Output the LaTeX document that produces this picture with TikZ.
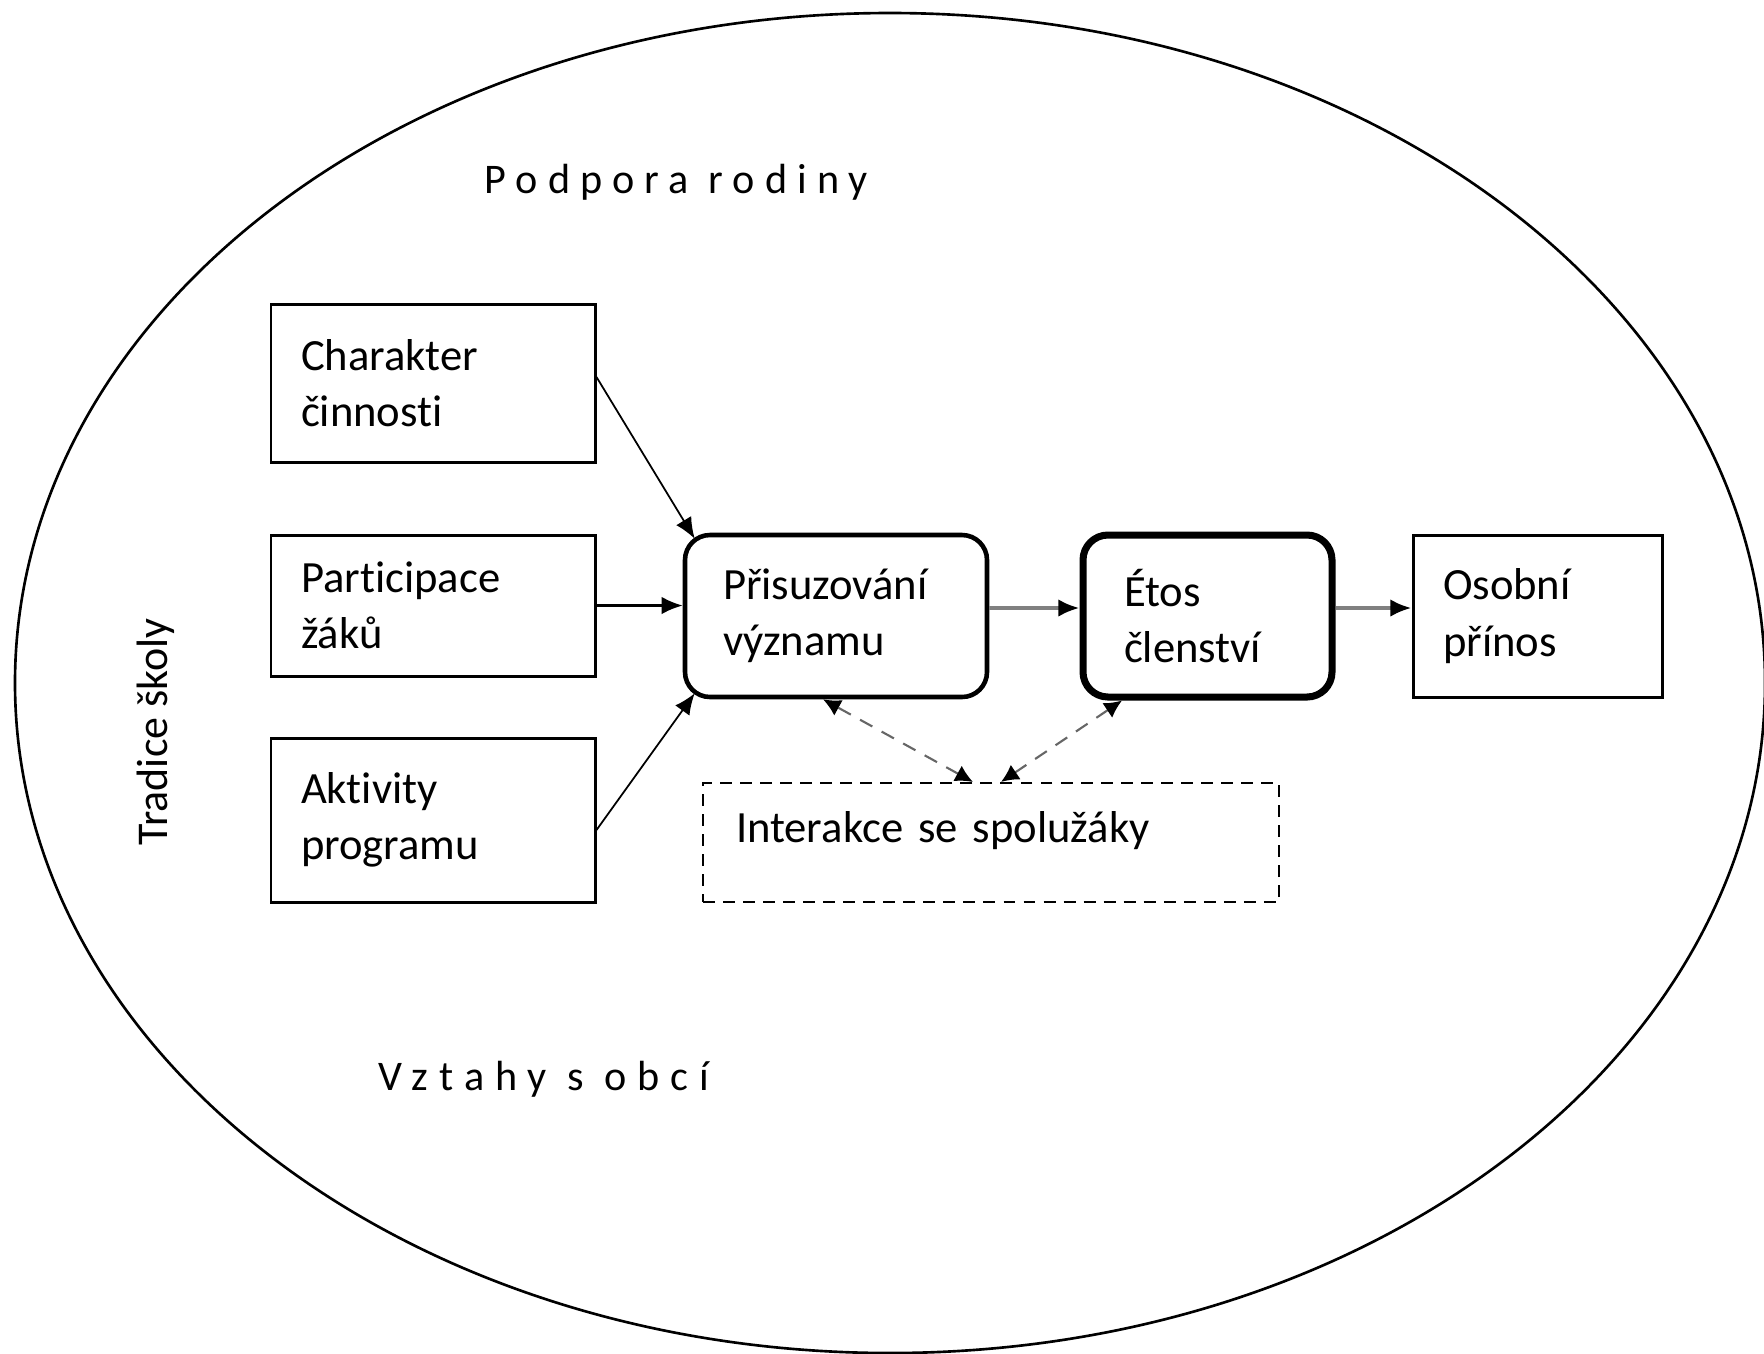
\documentclass[tikz,border=0pt]{standalone}
\usepackage{fontspec}
\setmainfont{Carlito}[Ligatures=NoCommon]
\usetikzlibrary{calc,arrows.meta}

\tikzset{
	box/.style={draw, line width=0.85pt, inner xsep=0pt, inner ysep=2pt, align=left, font=\fontsize{12.7}{16}\selectfont},
	roundbox/.style={box, rounded corners=0.25cm},
	dashbox/.style={box, line width=0.6pt, dash pattern=on 3.4pt off 2.3pt},
	freetext/.style={inner sep=0pt, font=\fontsize{12}{14}\selectfont},
	thinarrow/.style={line width=0.5pt, -{Latex[length=6pt,width=5pt]}},
	mainarrow/.style={line width=0.7pt, -{Latex[length=6pt,width=5pt]}},
	grayarrow/.style={draw=black!50, line width=1.1pt, -{Latex[length=6pt,width=5pt,black]}},
	dasharrow/.style={draw=black!60, line width=0.6pt, dash pattern=on 4pt off 3pt, {Latex[length=5pt,width=5pt,black]}-{Latex[length=5pt,width=5pt,black]}}
}

\begin{document}
\begin{tikzpicture}
			%%%%% START %%%%%
			\useasboundingbox (0, 0) rectangle (17.64, -13.53);
			
			\draw[line width=0.75pt] (8.90, -6.83) ellipse (8.75 and 6.70);
			
			\node[freetext, anchor=base west] (podpora) at (4.84, -1.93) {\addfontfeature{LetterSpace=24}Podpora rodiny};
			\node[freetext, anchor=base west] (vztahy) at (3.78, -10.90) {\addfontfeature{LetterSpace=26}Vztahy s obcí};
			\node[freetext, font=\fontsize{12.5}{15}\selectfont, rotate=90, anchor=base] (tradice) at (1.67, -7.32) {Tradice školy};
			
			\node[box, minimum width=3.24cm, minimum height=1.58cm, text width=2.64cm] (charakter) at (4.33, -3.83) {Charakter\\činnosti};
			\node[box, minimum width=3.24cm, minimum height=1.41cm, text width=2.64cm] (participace) at (4.33, -6.055) {Participace\\žáků};
			\node[box, minimum width=3.24cm, minimum height=1.64cm, text width=2.64cm] (aktivity) at (4.33, -8.20) {Aktivity\\programu};
			
			\node[roundbox, line width=1.3pt, minimum width=3.02cm, minimum height=1.62cm, text width=2.26cm] (prisuzovani) at (8.36, -6.16) {Přisuzování\\významu};
			\node[roundbox, line width=2pt, minimum width=2.49cm, minimum height=1.62cm, text width=1.67cm] (etos) at (12.075, -6.16) {Étos\\členství};
			\node[box, minimum width=2.49cm, minimum height=1.62cm, text width=1.89cm] (osobni) at (15.375, -6.16) {Osobní\\přínos};
			
			\node[dashbox, minimum width=5.76cm, minimum height=1.19cm, text width=5.10cm, text height=0.3cm, text depth=0.3cm] (interakce) at (9.91, -8.425) {Interakce se spolužáky};
			
			\draw[thinarrow] ([yshift=0.06cm]charakter.east) -- ([shift={(0.12cm,-0.06cm)}]prisuzovani.north west);
			\draw[mainarrow] (participace.east) -- (participace.east -| prisuzovani.west);
			\draw[thinarrow] ([yshift=-0.1cm]aktivity.east) -- ([shift={(0.12cm,0.06cm)}]prisuzovani.south west);
			
			\draw[grayarrow] ([yshift=0.08cm]prisuzovani.east) -- ([yshift=0.08cm]etos.west);
			\draw[grayarrow] ([yshift=0.08cm]etos.east) -- ([yshift=0.08cm]osobni.west);
			
			\draw[dasharrow] ([xshift=-0.18cm]interakce.north) -- ([xshift=-0.13cm]prisuzovani.south);
			\draw[dasharrow] ([xshift=0.10cm]interakce.north) -- ([xshift=-0.855cm]etos.south);
			%%%%% END %%%%%
\end{tikzpicture}
\end{document}
